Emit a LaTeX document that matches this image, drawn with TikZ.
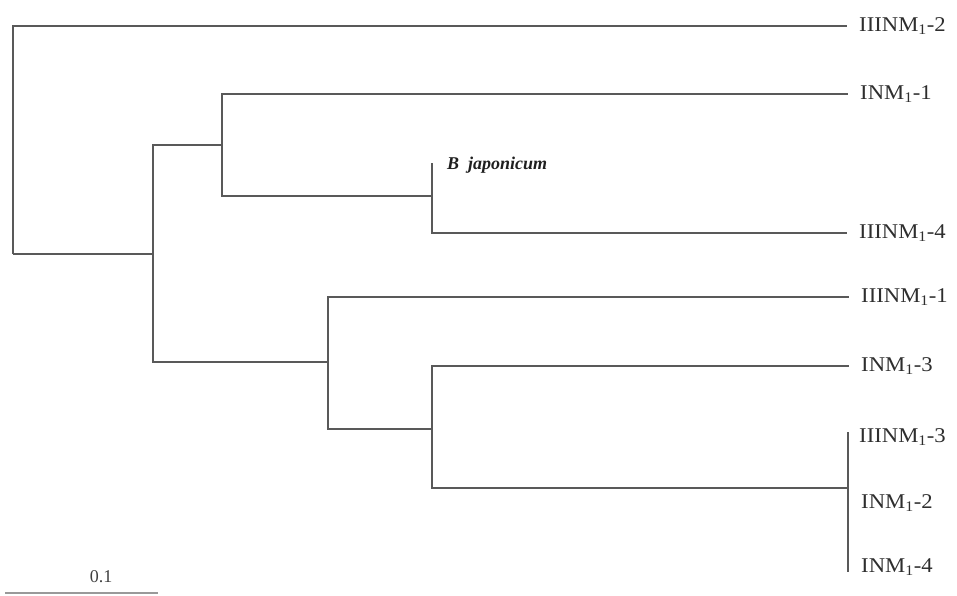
\documentclass[tikz,border=0pt]{standalone}
\usepackage{fontspec}
\setmainfont{Liberation Serif}
\begin{document}
\begin{tikzpicture}[x={(1pt,0)}, y={(0,-1pt)},
  branch/.style={draw=black!65, line width=1.1pt},
  tip/.style={branch, shorten >=12pt},
  leaf/.style={anchor=west, inner sep=0pt, text=black!82, font=\fontsize{21}{23}\selectfont, xscale=1.08},
  taxon/.style={anchor=west, inner sep=0pt, text=black!88, font=\fontsize{18}{20}\selectfont\bfseries\itshape},
  scalelbl/.style={inner sep=0pt, text=black!75, font=\fontsize{18}{20}\selectfont}]
\useasboundingbox (0,0) rectangle (957,595);

% internal nodes of the tree
\coordinate (root) at (13,254);
\coordinate (a) at (153,254);
\coordinate (b) at (222,145);
\coordinate (c) at (432,196);
\coordinate (d) at (328,362);
\coordinate (e) at (432,429);
\coordinate (f) at (848,488);
\coordinate (ft) at (848,432);
\coordinate (fb) at (848,572);

% tip labels
\node[leaf] (l1) at (859,26)  {IIINM\textsubscript{1}-2};
\node[leaf] (l2) at (860,94)  {INM\textsubscript{1}-1};
\node[taxon] (bj) at (447,165) {B\hspace{0.5em}japonicum};
\node[leaf] (l3) at (859,233) {IIINM\textsubscript{1}-4};
\node[leaf] (l4) at (861,297) {IIINM\textsubscript{1}-1};
\node[leaf] (l5) at (861,366) {INM\textsubscript{1}-3};
\node[leaf] (l6) at (859,437) {IIINM\textsubscript{1}-3};
\node[leaf] (l7) at (861,503) {INM\textsubscript{1}-2};
\node[leaf] (l8) at (861,567) {INM\textsubscript{1}-4};

% branches
\draw[tip] (root) |- (l1.west);
\draw[branch] (root) -- (a);
\draw[branch] (a) |- (b);
\draw[branch] (a) |- (d);
\draw[tip] (b) |- (l2.west);
\draw[branch] (b) |- (c);
\draw[branch] (c) -- (c |- 0,163);
\draw[tip] (c) |- (l3.west);
\draw[tip] (d) |- (l4.west);
\draw[branch] (d) |- (e);
\draw[tip] (e) |- (l5.west);
\draw[branch] (e) |- (f);
\draw[branch] (ft) -- (fb);

% scale bar
\coordinate (s0) at (5,593);
\coordinate (s1) at (158,593);
\draw[branch, draw=black!40] (s0) -- (s1);
\node[scalelbl] (sl) at (101,577) {0.1};
\end{tikzpicture}
\end{document}
